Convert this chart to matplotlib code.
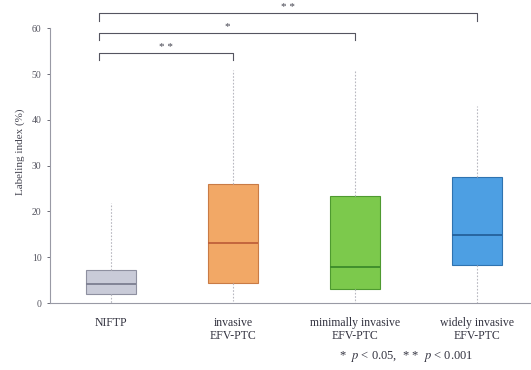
import matplotlib.pyplot as plt

# box plot statistics
groups = ["NIFTP", "invasive\nEFV-PTC", "minimally invasive\nEFV-PTC", "widely invasive\nEFV-PTC"]
whis_lo = [0, 0.5, 0, 0]
q1      = [2.0, 4.4, 3.0, 8.3]
median  = [4.1, 13.1, 7.9, 14.8]
q3      = [7.2, 26.0, 23.4, 27.5]
whis_hi = [21.8, 51.0, 51.0, 43.0]

face   = ["#c9cbd8", "#f2a866", "#7cc94c", "#4d9fe3"]
edge   = ["#8e90a0", "#c97b45", "#4e9a30", "#2f73b0"]
medcol = ["#7c7e90", "#c0603a", "#3c8a2a", "#25609a"]

# significance brackets: (group a, group b, height, label)
sig = [(0, 1, 54.6, "* *"), (0, 2, 59.0, "*"), (0, 3, 63.3, "* *")]

plt.rcParams['font.family'] = ['Liberation Serif', 'DejaVu Serif']
plt.rcParams['mathtext.fontset'] = 'stix'

fig = plt.figure(figsize=(5.31, 3.70), dpi=100)
ax = fig.add_axes([0.094, 0.181, 0.906, 0.819])

stats = []
for i in range(len(groups)):
    stats.append(dict(whislo=whis_lo[i], q1=q1[i], med=median[i], q3=q3[i], whishi=whis_hi[i], fliers=[]))

bp = ax.bxp(stats, positions=range(len(groups)), widths=0.41, patch_artist=True,
            showcaps=False, whiskerprops=dict(color="#b8b8c0", lw=0.8, ls=(0, (1.5, 1.5))))
for i, b in enumerate(bp['boxes']):
    b.set_facecolor(face[i])
    b.set_edgecolor(edge[i])
    b.set_linewidth(0.8)
    bp['medians'][i].set_color(medcol[i])
    bp['medians'][i].set_linewidth(1.3)

for a, b, h, lab in sig:
    xa = a - 0.1 if a == 0 else a
    ax.plot([xa, xa, b, b], [h - 1.6, h, h, h - 1.6], color="#555560", lw=0.8, clip_on=False)
    ax.text((xa + b) / 2, h + 0.3, lab, ha="center", va="bottom", fontsize=8, color="#444450")

ax.set_xlim(-0.5, 3.44)
ax.set_ylim(0, 66.2)
ax.set_yticks(range(0, 61, 10))
ax.spines['left'].set_bounds(0, 60)
ax.spines['left'].set_color("#999aa5")
ax.spines['bottom'].set_color("#999aa5")
ax.spines['top'].set_visible(False)
ax.spines['right'].set_visible(False)
ax.tick_params(axis='y', labelsize=7, colors="#555560", length=2.5, width=0.6)
ax.tick_params(axis='x', length=0, labelsize=8.5, labelcolor="#333340", pad=10)
ax.set_xticks(range(len(groups)))
ax.set_xticklabels(groups, linespacing=1.1)
ax.set_ylabel("Labeling index (%)", fontsize=8, color="#444450", labelpad=5)

fig.text(0.765, 0.03, r"*  $p$ < 0.05,  * *  $p$ < 0.001", ha="center", fontsize=9, color="#333340")

fig.savefig("out.png", dpi=100)
